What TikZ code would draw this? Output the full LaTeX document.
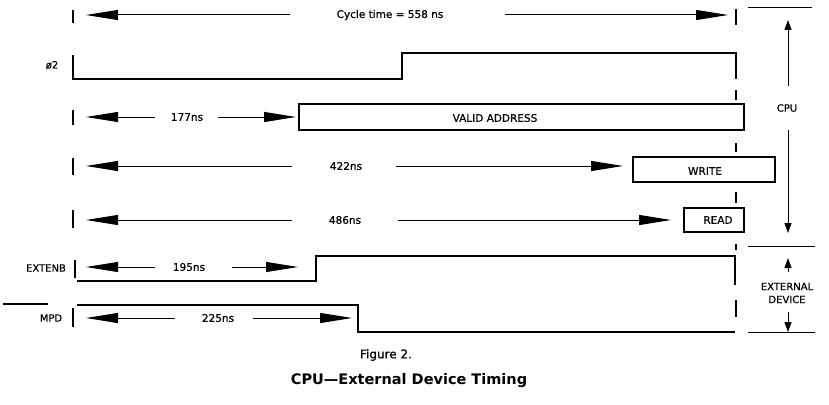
\documentclass[tikz,border=0pt]{standalone}
\usepackage{fontspec}
\setmainfont{DejaVu Sans}
\newfontfamily\medfont{DejaVu Sans}[FakeBold=0.6]
\usetikzlibrary{arrows.meta}
\begin{document}
\begin{tikzpicture}[x=1pt,y=-1pt,
  sig/.style={line width=1.6pt},
  dimline/.style={line width=1pt},
  bigtip/.style={dimline,-{Triangle[length=32pt,width=10pt]}},
  smalltip/.style={dimline,-{Triangle[length=10pt,width=7pt]}},
  bar/.style={line width=1.2pt},
  txt/.style={inner sep=0pt,font=\medfont\fontsize{10.5}{12}\selectfont},
  lbl/.style={inner sep=0pt,font=\medfont\fontsize{10}{12}\selectfont},
  box/.style={line width=1.4pt}]
\useasboundingbox (0,0) rectangle (829,404);

% ---- cycle time row
\draw[bar] (73,10) -- (73,23);
\draw[bigtip] (290,15) -- (86,15);
\node[txt] (cyc) at (390,15) {Cycle time = 558 ns};
\draw[bigtip] (505,15) -- (728,15);
\draw[bar] (736,9) -- (736,25);

% ---- phi2
\node[lbl] (phi) at (52,65) {ø2};
\draw[sig] (73,55) -- (73,79) -- (402,79) -- (402,53) -- (736,53) -- (736,79);

% ---- valid address
\draw[bar] (73,110) -- (73,125);
\draw[bigtip] (155,117) -- (86,117);
\node[txt] (t177) at (187,117) {177ns};
\draw[bigtip] (218,117) -- (296,117);
\draw[box] (299,104) rectangle (744,130);
\node[txt] (va) at (495,118) {VALID ADDRESS};

% ---- write
\draw[bar] (73,158) -- (73,175);
\draw[bigtip] (292,166) -- (86,166);
\node[txt] (t422) at (346,166) {422ns};
\draw[bigtip] (396,166) -- (623,166);
\draw[box] (633,157) rectangle (775,182);
\node[txt] (wr) at (705,171) {WRITE};

% ---- read
\draw[bar] (73,210) -- (73,228);
\draw[bigtip] (292,220) -- (86,220);
\node[txt] (t486) at (345,220) {486ns};
\draw[bigtip] (398,220) -- (671,220);
\draw[box] (684,208) rectangle (744,232);
\node[txt] (rd) at (718,220) {READ};

% ---- EXTENB
\node[lbl] (ext) at (46,268) {EXTENB};
\draw[bar] (75,260) -- (75,278);
\draw[bigtip] (155,267) -- (86,267);
\node[txt] (t195) at (189,267) {195ns};
\draw[bigtip] (232,267) -- (298,267);
\draw[sig] (77,281) -- (316,281) -- (316,256) -- (735,256) -- (735,285);

% ---- MPD
\draw[sig] (3,304) -- (48,304);
\node[lbl] (mpd) at (51,318) {MPD};
\draw[bar] (73,308) -- (73,327);
\draw[bigtip] (175,318) -- (86,318);
\node[txt] (t225) at (218,318) {225ns};
\draw[bigtip] (253,318) -- (352,318);
\draw[sig] (77,305) -- (358,305) -- (358,332) -- (735,332);

% ---- dashed cycle end marker
\foreach \a/\b in {90/100,143/152,192/203,244/250,300/317}
  \draw[bar] (736,\a) -- (736,\b);

% ---- right side CPU / external device
\draw[dimline] (748,8) -- (812,8);
\draw[smalltip] (788,86) -- (788,20);
\node[lbl] (cpu) at (787,108) {CPU};
\draw[smalltip] (788,130) -- (788,233);
\draw[dimline] (748,246) -- (815,246);
\draw[smalltip] (788,272) -- (788,258);
\node[lbl,align=center] (extdev) at (787,293) {EXTERNAL\\[1pt]DEVICE};
\draw[smalltip] (788,312) -- (788,332);
\draw[dimline] (748,332) -- (815,332);

% ---- caption
\node[inner sep=0pt,font=\medfont\fontsize{12}{14}\selectfont] (fig) at (386,355) {Figure 2.};
\node[inner sep=0pt,font=\bfseries\fontsize{14.5}{16}\selectfont] (cap) at (409,381) {CPU—External Device Timing};
\end{tikzpicture}
\end{document}
